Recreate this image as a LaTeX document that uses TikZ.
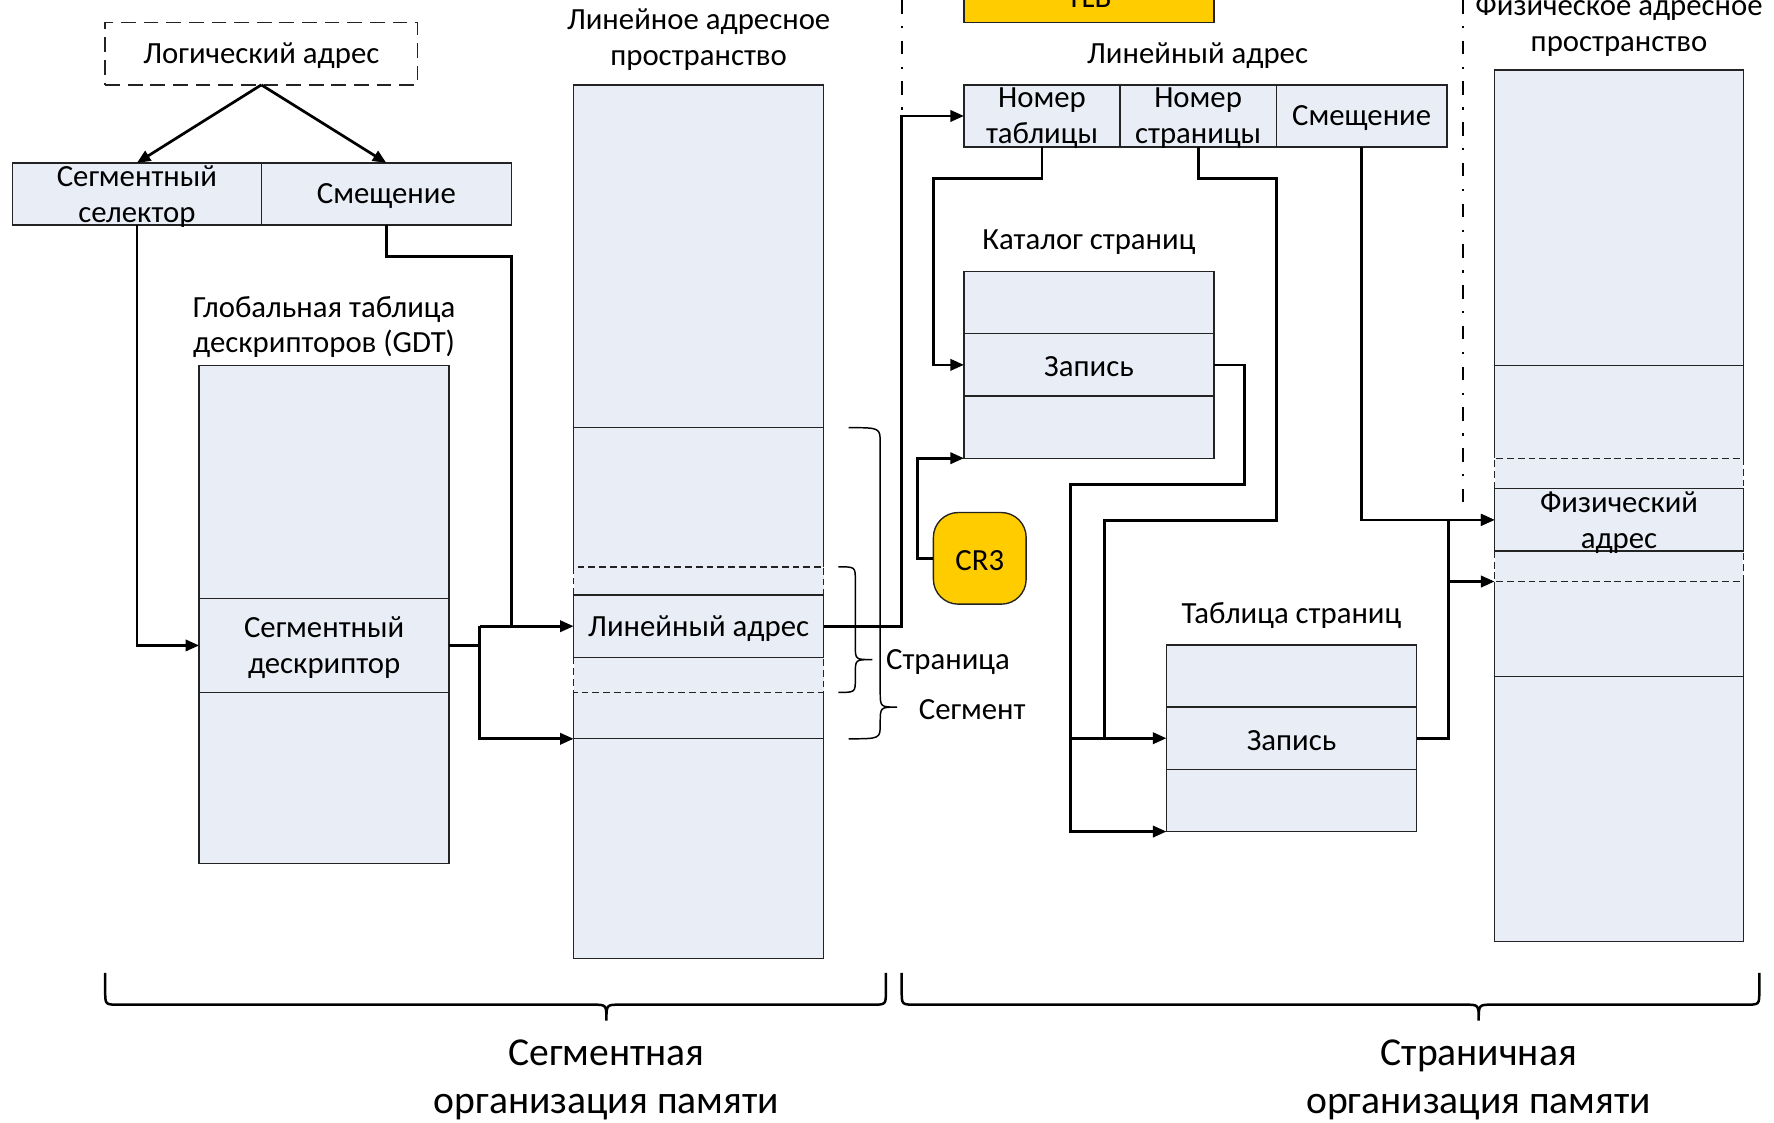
\documentclass[tikz,border=0pt]{standalone}
\usepackage{fontspec}
\setmainfont{Carlito}
\usetikzlibrary{arrows.meta,calc}
\definecolor{cellc}{RGB}{233,237,246}
\definecolor{goldc}{RGB}{255,204,0}
\definecolor{linec}{RGB}{35,35,35}
\newcommand\fsA{\fontsize{27.2}{31.5}\selectfont}
\newcommand\fsB{\fontsize{35}{43}\selectfont}
\tikzset{
  cell/.style 2 args={draw=linec, line width=1.2pt, fill=cellc, inner sep=0pt, outer sep=0pt, minimum width=#1, minimum height=#2},
  fcell/.style 2 args={draw=none, fill=cellc, inner sep=0pt, outer sep=0pt, minimum width=#1, minimum height=#2},
  dbox/.style={draw=linec, line width=1.5pt, dash pattern=on 13pt off 7pt, inner sep=0pt, outer sep=0pt},
  bline/.style={draw=linec, line width=1.2pt},
  dline/.style={draw=linec, line width=1.2pt, dash pattern=on 6pt off 3.5pt},
  txt/.style={font=\fsA, align=center, inner sep=0pt, text=black, yshift=-2pt},
  bigtxt/.style={font=\fsB, align=center, inner sep=0pt, text=black, yshift=-3pt},
  wire/.style={draw=black, line width=2.4pt},
  conn/.style={wire, -{Triangle[length=12pt,width=10pt]}},
  cbrace/.style={draw=black, line width=1.3pt},
  bigbrace/.style={draw=black, line width=2.2pt},
  sepline/.style={draw=black, line width=2pt, dash pattern=on 12pt off 11pt on 2pt off 11pt},
}
\begin{document}
\begin{tikzpicture}[x=1pt,y=-1pt]
\useasboundingbox (0,0) rectangle (1568,992);
\clip (0,0) rectangle (1568,992);

% ---------- separators ----------
\draw[sepline] (797,0) -- (797,103);
\draw[sepline] (1293,0) -- (1293,455);

% ---------- logical address ----------
\node[dbox, minimum width=276pt, minimum height=55pt] (log) at (231,47.5) {};
\node[txt] (logt) at (log) {Логический адрес};
\node[cell={220pt}{55pt}] (sel) at (121,171.5) {};
\node[txt] (selt) at (sel) {Сегментный\\селектор};
\node[cell={221pt}{55pt}] (off) at (341.5,171.5) {};
\node[txt] (offt) at (off) {Смещение};

% ---------- GDT ----------
\node[txt] (gdtl) at (286.5,287) {Глобальная таблица\\дескрипторов (GDT)};
\node[cell={221pt}{206pt}] (g1) at (286.5,426) {};
\node[cell={221pt}{83pt}] (gd) at (286.5,570.5) {};
\node[txt] (gdt) at (gd) {Сегментный\\дескриптор};
\node[cell={221pt}{151pt}] (g3) at (286.5,687.5) {};

% ---------- linear address space ----------
\node[txt] (lsl) at (617.5,33) {Линейное адресное\\пространство};
\node[fcell={221pt}{303pt}] (ls1) at (617.5,226.5) {};
\node[fcell={221pt}{123pt}] (ls2) at (617.5,439.5) {};
\node[fcell={221pt}{25pt}] (ls3) at (617.5,513.5) {};
\node[fcell={221pt}{55pt}] (la) at (617.5,553.5) {};
\node[fcell={221pt}{31pt}] (ls5) at (617.5,596.5) {};
\node[fcell={221pt}{41pt}] (ls6) at (617.5,632.5) {};
\node[fcell={221pt}{194pt}] (ls7) at (617.5,750) {};
\draw[dline] (ls3.south west) |- (ls3.north east) -- (ls3.south east);
\draw[dline] (ls5.north west) |- (ls5.south east) -- (ls5.north east);
\draw[bline] (ls2.south west) |- (ls1.north east) -- (ls2.south east);
\draw[bline] (ls1.south west) -- (ls1.south east);
\draw[bline] (la.north west) rectangle (la.south east);
\draw[bline] (ls6.north west) |- (ls7.south east) -- (ls6.north east);
\draw[bline] (ls7.north west) -- (ls7.north east);
\node[txt] (lat) at (la) {Линейный адрес};

% braces in linear space
\draw[cbrace] (741,501) .. controls (756,501) .. (756,513) -- (756,571) .. controls (756,583) .. (771,583) .. controls (756,583) .. (756,595) -- (756,600) .. controls (756,612) .. (741,612);
\draw[cbrace] (750,378) .. controls (778,378) .. (778,392) -- (778,611) .. controls (778,625) .. (793,625) .. controls (778,625) .. (778,639) -- (778,640) .. controls (778,653) .. (750,653);
\node[txt, anchor=west] (pgl) at (783,583) {Страница};
\node[txt, anchor=west] (sgl) at (812,625) {Сегмент};

% ---------- TLB ----------
\node[cell={221pt}{55pt}, fill=goldc] (tlb) at (962.5,-7.5) {};
\node[txt, anchor=base] (tlbt) at (962.5,4.5) {TLB};

% ---------- linear address fields ----------
\node[txt] (lal) at (1058.5,47) {Линейный адрес};
\node[cell={138pt}{55pt}] (f1) at (921,102.5) {};
\node[txt] (f1t) at (f1) {Номер\\таблицы};
\node[cell={138pt}{55pt}] (f2) at (1059,102.5) {};
\node[txt] (f2t) at (f2) {Номер\\страницы};
\node[cell={151pt}{55pt}] (f3) at (1203.5,102.5) {};
\node[txt] (f3t) at (f3) {Смещение};

% ---------- page directory ----------
\node[txt] (dl) at (962.5,212) {Каталог страниц};
\node[cell={221pt}{55pt}] (d1) at (962.5,267.5) {};
\node[cell={221pt}{55pt}] (d2) at (962.5,322.5) {};
\node[txt] (d2t) at (d2) {Запись};
\node[cell={221pt}{55pt}] (d3) at (962.5,377.5) {};

% ---------- CR3 ----------
\node[cell={82pt}{81pt}, fill=goldc, rounded corners=22pt] (cr3) at (866,493.5) {};
\node[txt] (cr3t) at (cr3) {CR3};

% ---------- page table ----------
\node[txt] (tl) at (1141.5,542) {Таблица страниц};
\node[cell={221pt}{55pt}] (t1) at (1141.5,597.5) {};
\node[cell={221pt}{55pt}] (t2) at (1141.5,652.5) {};
\node[txt] (t2t) at (t2) {Запись};
\node[cell={221pt}{55pt}] (t3) at (1141.5,707.5) {};

% ---------- physical address space ----------
\node[txt] (pl) at (1431,20.5) {Физическое адресное\\пространство};
\node[fcell={220pt}{261pt}] (p1) at (1431,192.5) {};
\node[fcell={220pt}{82pt}] (p2) at (1431,364) {};
\node[fcell={220pt}{27pt}] (p3) at (1431,418.5) {};
\node[fcell={220pt}{55pt}] (pa) at (1431,459.5) {};
\node[fcell={220pt}{27pt}] (p5) at (1431,500.5) {};
\node[fcell={220pt}{84pt}] (p6) at (1431,556) {};
\node[fcell={220pt}{234pt}] (p7) at (1431,715) {};
\draw[dline] (p3.south west) |- (p3.north east) -- (p3.south east);
\draw[dline] (p5.north west) |- (p5.south east) -- (p5.north east);
\draw[bline] (p2.south west) |- (p1.north east) -- (p2.south east);
\draw[bline] (p1.south west) -- (p1.south east);
\draw[bline] (pa.north west) rectangle (pa.south east);
\draw[bline] (p6.north west) |- (p7.south east) -- (p6.north east);
\draw[bline] (p7.north west) -- (p7.north east);
\node[txt] (pat) at (1431,460) {Физический\\адрес};

% ---------- connectors ----------
\draw[conn] (log.south) -- (sel.north);
\draw[conn] (log.south) -- (off.north);
\draw[conn] (sel.south) |- (gd.west);
\draw[wire] (off.south) -- ++(0,28) -| ($(la.west)+(-55,0)$);
\draw[wire] (gd.east) -- ++(27,0);
\coordinate (jd) at ($(la.west)+(-83,0)$);
\draw[conn] (jd) -- (la.west);
\draw[conn] (jd) |- (ls7.north west);
\draw[conn] (la.east) -- ++(69,0) |- (f1.west);
\draw[conn] (f1.south) -- ++(0,28) -| ($(d2.west)+(-27,0)$) -- (d2.west);
\draw[wire] (f2.south) -- ++(0,28) -| ++(69,302) -| ($(t2.west)+(-55,0)$);
\draw[conn] (f3.south) |- (pa.west);
\draw[conn] (d2.east) -- ++(27,0) |- ++(-154,105.5) |- (t3.south west);
\draw[conn] ($(t2.west)+(-85,0)$) -- (t2.west);
\draw[conn] (cr3.west) -- ++(-14,0) |- (d3.south west);
\draw[conn] (t2.east) -- ++(28,0) |- (pa.west);
\draw[conn] ($(t2.east)+(28,0)$) |- (p6.north west);

% ---------- bottom braces ----------
\draw[bigbrace] (93,860) -- (93,876) .. controls (93,888) .. (105,888) -- (524,888) .. controls (536,888) .. (536,902) .. controls (536,888) .. (548,888) -- (771,888) .. controls (783,888) .. (783,876) -- (783,860);
\draw[bigbrace] (797,860) -- (797,876) .. controls (797,888) .. (809,888) -- (1295,888) .. controls (1307,888) .. (1307,902) .. controls (1307,888) .. (1319,888) -- (1543,888) .. controls (1555,888) .. (1555,876) -- (1555,860);
\node[bigtxt] (segorg) at (536,951.5) {Сегментная\\организация памяти};
\node[bigtxt] (pgorg) at (1307,951.5) {Страничная\\организация памяти};
\end{tikzpicture}
\end{document}
